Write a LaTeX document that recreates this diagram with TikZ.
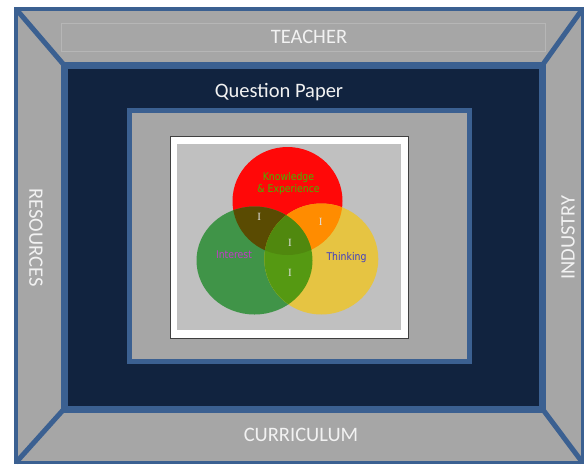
\documentclass[tikz,border=0pt]{standalone}
\usepackage{fontspec}
\setmainfont{Carlito}
\newfontfamily\vennfont{DejaVu Sans}[FakeStretch=0.88]
\newfontfamily\markfont{Liberation Serif}
\usepackage{tikz}
\definecolor{frameblue}{HTML}{3B6091}
\definecolor{framegray}{HTML}{A6A6A6}
\definecolor{navy}{HTML}{11233F}
\definecolor{picgray}{HTML}{C0C0C0}
\definecolor{vred}{HTML}{FF0808}
\definecolor{vgreen}{HTML}{409448}
\definecolor{vyellow}{HTML}{E6C442}
\definecolor{vrg}{HTML}{5A4B02}
\definecolor{vry}{HTML}{FF8C00}
\definecolor{vgy}{HTML}{559912}
\definecolor{vrgy}{HTML}{50880E}
\definecolor{knowtext}{HTML}{44B800}
\definecolor{interesttext}{HTML}{C23AC8}
\definecolor{thinktext}{HTML}{3C3CC4}
\newcommand\kecircle{(287.5,201) ellipse [x radius=55,y radius=54]}
\newcommand\incircle{(254.5,260.5) ellipse [x radius=58,y radius=54]}
\newcommand\thcircle{(321.3,259) ellipse [x radius=57,y radius=55.5]}

\begin{document}
\begin{tikzpicture}[x=1pt,y=-1pt,
	side/.style={text=white!95!black,font=\fontsize{20.5}{24}\selectfont,inner sep=0pt},
	venn/.style={font=\vennfont\fontsize{10.6}{12.5}\selectfont,inner sep=0pt,align=center},
	imark/.style={text=white!88!black,font=\markfont\fontsize{11}{12}\selectfont,inner sep=0pt}]
	\useasboundingbox (0,0) rectangle (584,464);
	\coordinate (otl) at (16,9);
	\coordinate (otr) at (582.5,9);
	\coordinate (obl) at (16,462.5);
	\coordinate (obr) at (582.5,462.5);
	\coordinate (itl) at (64,65);
	\coordinate (itr) at (542.5,65);
	\coordinate (ibl) at (64,409);
	\coordinate (ibr) at (542.5,409);
	\filldraw[fill=framegray,draw=frameblue,line width=3.5pt] (otl) rectangle (obr);
	\draw[frameblue,line width=5pt] (otl) -- (itl) (otr) -- (itr) (obl) -- (ibl) (obr) -- (ibr);
	\filldraw[fill=navy,draw=frameblue,line width=7pt] (itl) rectangle (ibr);
	\draw[white!18!framegray,line width=0.5pt] (61,23) rectangle (545,51);
	\filldraw[fill=framegray,draw=frameblue,line width=4.5pt] (129.5,110.5) rectangle (469.5,361.5);
	\filldraw[fill=white,draw=black!75,line width=1pt] (170.5,136.5) rectangle (408.5,338.5);
	\fill[picgray] (177,144) rectangle (401,330);

	\fill[vred] \kecircle;
	\fill[vgreen] \incircle;
	\fill[vyellow] \thcircle;
	\begin{scope}
		\clip \kecircle;
		\fill[vrg] \incircle;
		\fill[vry] \thcircle;
	\end{scope}
	\begin{scope}
		\clip \incircle;
		\fill[vgy] \thcircle;
	\end{scope}
	\begin{scope}
		\clip \kecircle;
		\clip \incircle;
		\fill[vrgy] \thcircle;
	\end{scope}

	\node[side] (teacher) at (309,37) {TEACHER};
	\node[side] (curriculum) at (301,435) {CURRICULUM};
	\node[side,rotate=-90] (resources) at (36,237.5) {RESOURCES};
	\node[side,rotate=90] (industry) at (568,237.5) {INDUSTRY};
	\node[side] (qpaper) at (279,92) {Question Paper};
	\node[venn,text=knowtext] (know) at (288.5,183.5) {Knowledge\\\& Experience};
	\node[venn,text=interesttext] (interest) at (234,255) {Interest};
	\node[venn,text=thinktext] (thinking) at (346.5,257.5) {Thinking};
	\node[imark] (i1) at (259.3,217) {I};
	\node[imark] (i2) at (320.7,221.5) {I};
	\node[imark] (i3) at (290,242.5) {I};
	\node[imark] (i4) at (290,272.5) {I};
\end{tikzpicture}
\end{document}
